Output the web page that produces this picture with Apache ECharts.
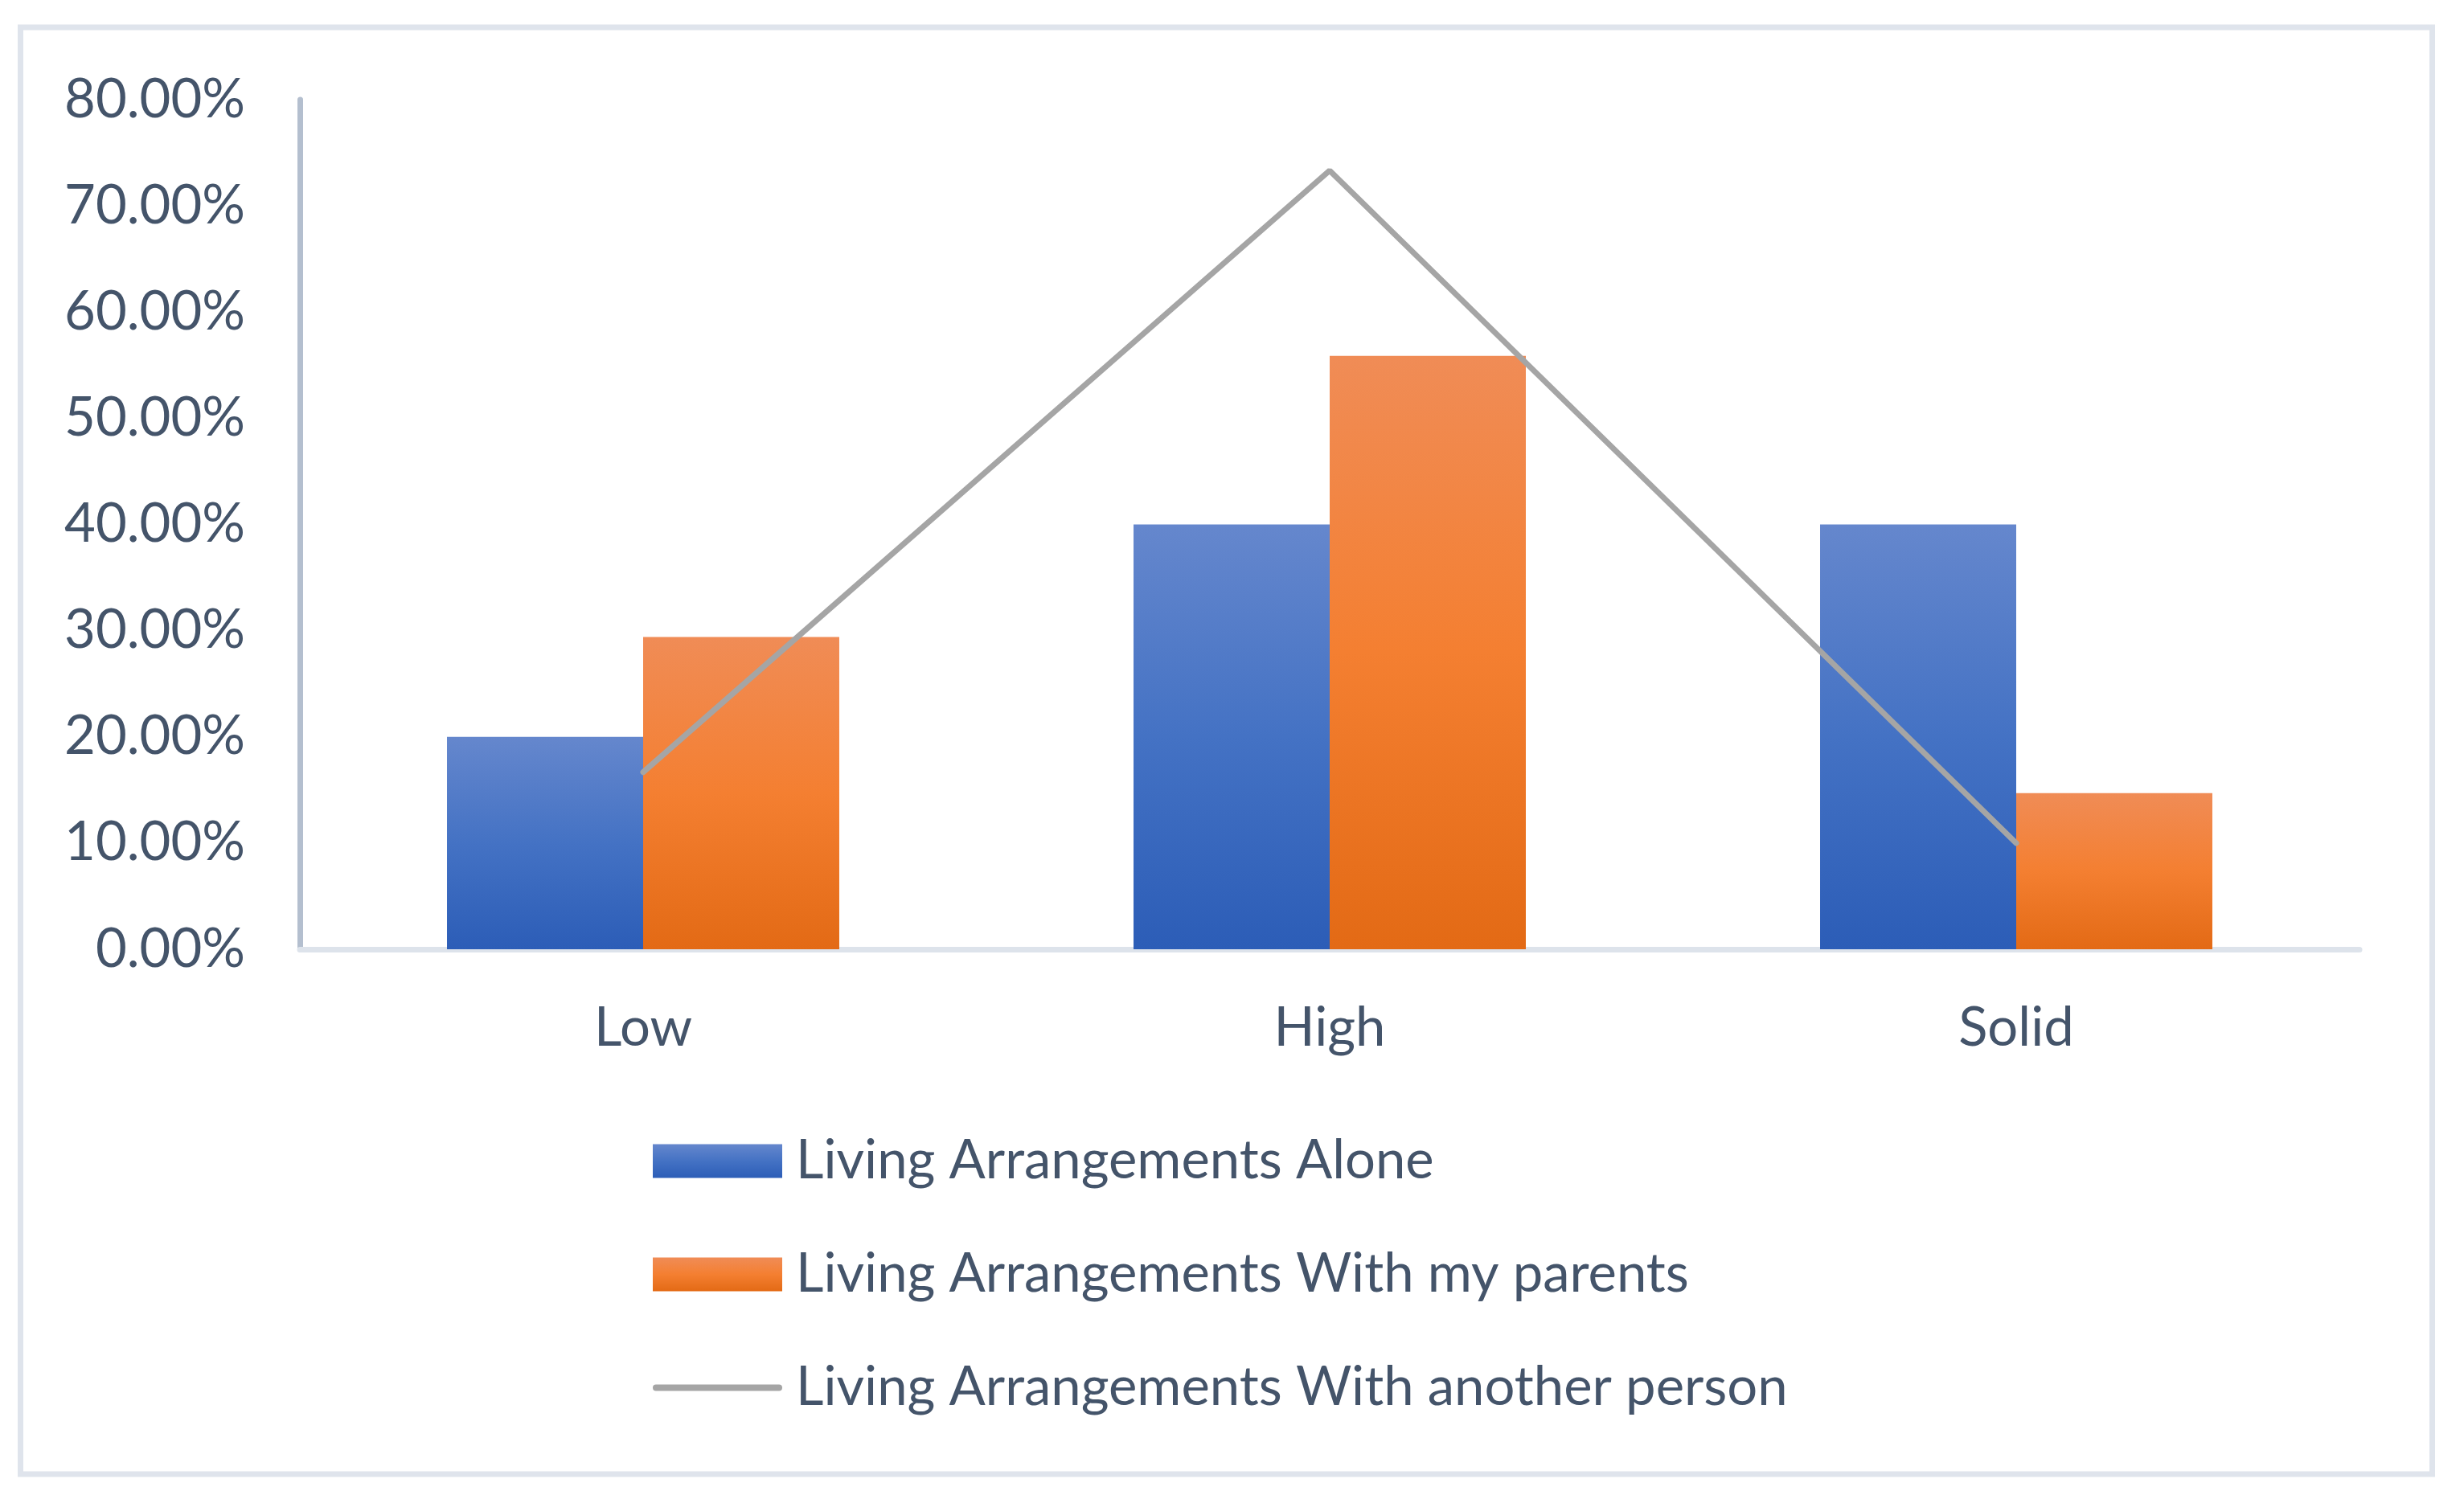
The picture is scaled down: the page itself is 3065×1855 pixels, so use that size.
<!DOCTYPE html>
<html>
<head>
<meta charset="utf-8">
<script src="https://cdn.jsdelivr.net/npm/echarts@6/dist/echarts.min.js"></script>
<style>
html,body{margin:0;padding:0;background:#fff;}
#chart{width:3065px;height:1855px;}
</style>
</head>
<body>
<div id="chart"></div>
<script>
var categories = ['Low', 'High', 'Solid'];
var seriesNames = ['Living Arrangements Alone', 'Living Arrangements With my parents', 'Living Arrangements With another person'];
var aloneValues = [20.00, 40.00, 40.00];
var parentsValues = [29.41, 55.88, 14.71];
var anotherValues = [16.67, 73.33, 10.00];
var yTicks = [0, 10, 20, 30, 40, 50, 60, 70, 80];

var textColor = '#44546A';
var fontFamily = 'Lato';
var fontSize = 67;

function grad(c0, c1, c2) {
  return new echarts.graphic.LinearGradient(0, 0, 0, 1, [
    {offset: 0, color: c0}, {offset: 0.5, color: c1}, {offset: 1, color: c2}
  ]);
}

var chart = echarts.init(document.getElementById('chart'), null, {renderer: 'canvas'});
chart.setOption({
  backgroundColor: '#ffffff',
  animation: false,
  graphic: [{
    type: 'rect',
    shape: {x: 25.5, y: 34, width: 3000, height: 1800},
    style: {fill: 'none', stroke: '#dfe4ec', lineWidth: 7},
    silent: true, z: -1
  }],
  grid: {left: 373, right: 3065 - 2935, top: 124, bottom: 1855 - 1181, containLabel: false},
  legend: {
    orient: 'vertical',
    left: 812,
    top: 1411,
    padding: 0,
    itemWidth: 161,
    itemHeight: 42,
    itemGap: 74,
    selectedMode: false,
    textStyle: {color: textColor, fontFamily: fontFamily, fontSize: fontSize, lineHeight: 67, padding: [0, 0, 0, 12]},
    data: [
      {name: seriesNames[0], icon: 'rect'},
      {name: seriesNames[1], icon: 'rect'},
      {name: seriesNames[2], icon: 'path://M4,0H157A4,4,0,0,1,157,8H4A4,4,0,0,1,4,0Z', itemStyle: {color: '#A5A5A5', borderWidth: 0}}
    ]
  },
  xAxis: {
    type: 'category',
    data: categories,
    boundaryGap: true,
    axisLine: {show: true, lineStyle: {color: '#dde3eb', width: 7}},
    axisTick: {show: false},
    axisLabel: {color: textColor, fontFamily: fontFamily, fontSize: fontSize, lineHeight: 67, margin: 65},
    splitLine: {show: false}
  },
  yAxis: {
    type: 'value',
    min: yTicks[0],
    max: yTicks[yTicks.length - 1],
    interval: 10,
    axisLine: {show: true, lineStyle: {color: '#b4bfcf', width: 7}},
    axisTick: {show: false},
    splitLine: {show: false},
    axisLabel: {
      color: textColor, fontFamily: fontFamily, fontSize: fontSize, margin: 68,
      formatter: function (v) { return v.toFixed(2) + '%'; }
    }
  },
  series: [
    {
      name: seriesNames[0], type: 'bar', data: aloneValues,
      barGap: '0%', barCategoryGap: '42.86%',
      itemStyle: {color: grad('#6587cd', '#4472c4', '#2c5db7')}
    },
    {
      name: seriesNames[1], type: 'bar', data: parentsValues,
      barGap: '0%', barCategoryGap: '42.86%',
      itemStyle: {color: grad('#f08c56', '#f47f31', '#e36a15')}
    },
    {
      name: seriesNames[2], type: 'line', data: anotherValues,
      symbol: 'none', z: 5,
      itemStyle: {color: '#A5A5A5'},
      lineStyle: {color: '#A5A5A5', width: 7, join: 'bevel', cap: 'round'}
    }
  ]
});
</script>
</body>
</html>
